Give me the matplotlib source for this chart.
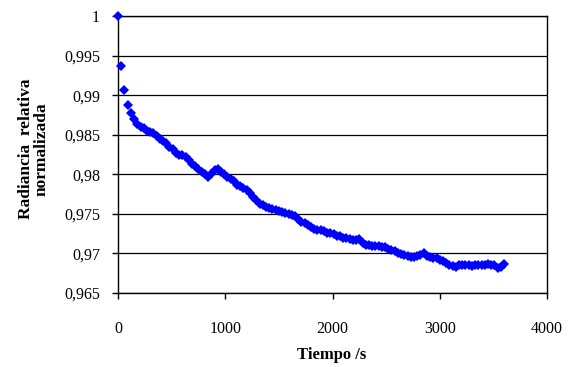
import numpy as np
import matplotlib
matplotlib.use("Agg")
import matplotlib.pyplot as plt
from matplotlib.ticker import FuncFormatter

plt.rcParams['font.family'] = ['Liberation Serif', 'DejaVu Serif']

# tiempo cada 30 s, radiancia
tiempo = np.arange(0, 3601, 30)
radiancia = [
    1.0000, 0.9937, 0.9906, 0.9887, 0.9877, 0.9870, 0.9863, 0.9860, 0.9858, 0.9855,
    0.9853, 0.9852, 0.9848, 0.9845, 0.9842, 0.9839, 0.9835, 0.9832, 0.9827, 0.9824,
    0.9825, 0.9822, 0.9818, 0.9813, 0.9810, 0.9807, 0.9803, 0.9800, 0.9796, 0.9800,
    0.9805, 0.9807, 0.9803, 0.9800, 0.9797, 0.9794, 0.9792, 0.9786, 0.9785, 0.9783,
    0.9780, 0.9776, 0.9771, 0.9767, 0.9763, 0.9761, 0.9759, 0.9757, 0.9756, 0.9755,
    0.9753, 0.9752, 0.9751, 0.9750, 0.9749, 0.9747, 0.9743, 0.9740, 0.9738, 0.9736,
    0.9734, 0.9731, 0.9730, 0.9729, 0.9728, 0.9726, 0.9726, 0.9724, 0.9722, 0.9722,
    0.9720, 0.9719, 0.9718, 0.9717, 0.9717, 0.9718, 0.9713, 0.9711, 0.9711, 0.9710,
    0.9710, 0.9709, 0.9708, 0.9708, 0.9706, 0.9704, 0.9703, 0.9701, 0.9699, 0.9698,
    0.9697, 0.9696, 0.9695, 0.9697, 0.9698, 0.9701, 0.9697, 0.9695, 0.9694, 0.9694,
    0.9692, 0.9690, 0.9688, 0.9686, 0.9684, 0.9683, 0.9686, 0.9686, 0.9685, 0.9685,
    0.9684, 0.9685, 0.9686, 0.9686, 0.9686, 0.9687, 0.9686, 0.9685, 0.9681, 0.9683,
    0.9687,
]
xticks = [0, 1000, 2000, 3000, 4000]
yticks = [0.965, 0.97, 0.975, 0.98, 0.985, 0.99, 0.995, 1.0]

fig = plt.figure(figsize=(5.74, 3.67), dpi=100)
ax = fig.add_axes([118/574, 1-293/367, 429/574, 277/367])

ax.plot(tiempo, radiancia, "D", color="#0000FF", ms=4.8, mew=0, zorder=3, clip_on=False)

ax.set_xlim(0, 4000); ax.set_ylim(0.965, 1.0)
ax.set_xticks(xticks); ax.set_yticks(yticks)
ax.yaxis.set_major_formatter(FuncFormatter(lambda v, p: ("%g" % round(v, 3)).replace(".", ",")))
ax.grid(axis="y", color="black", lw=0.9)
ax.set_axisbelow(True)
for s in ax.spines.values():
    s.set_color("black"); s.set_linewidth(1.0)
ax.tick_params(direction="out", length=4, width=1, labelsize=11.5, colors="black")
ax.tick_params(axis="x", pad=16)
ax.tick_params(axis="y", pad=9)

fig.text(34/574, 1-149/367, "Radiancia  relativa\nnormalizada", rotation=90,
         ha="center", va="center", multialignment="center",
         fontsize=12.5, fontweight="bold", linespacing=1.0)
fig.text(332/574, 1-355/367, "Tiempo /s", ha="center", va="center",
         fontsize=12, fontweight="bold")

fig.savefig("out.png", dpi=100)
